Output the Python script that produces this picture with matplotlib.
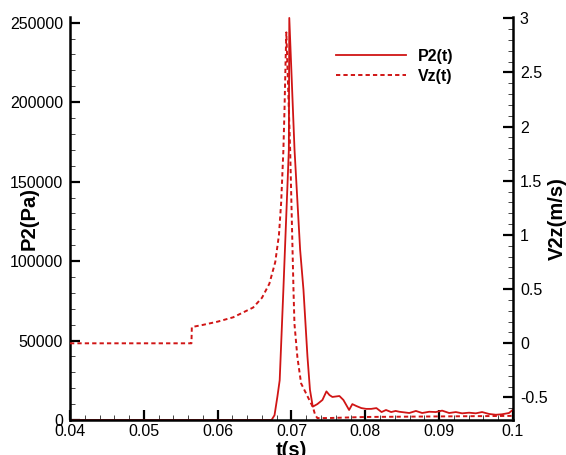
import matplotlib
matplotlib.use("Agg")
import matplotlib.pyplot as plt
from matplotlib.ticker import MultipleLocator, FixedLocator

plt.rcParams['font.family'] = ['Liberation Sans', 'DejaVu Sans']

# P2(t) solid curve (Pa)
t_p = [0.040, 0.0665, 0.0673, 0.0677, 0.0681, 0.0684, 0.0689, 0.06964, 0.0697,
       0.07041, 0.07117, 0.07162, 0.07216, 0.0725, 0.07288, 0.0735, 0.07419, 0.07473,
       0.07514, 0.07554, 0.07649, 0.07703, 0.07757, 0.0778, 0.07824, 0.07878, 0.07946,
       0.0801, 0.0808, 0.0815, 0.0822, 0.0828, 0.0835, 0.0841, 0.08459, 0.08595,
       0.08685, 0.0877, 0.08865, 0.08955, 0.0904, 0.09135, 0.09226, 0.09311, 0.09405,
       0.09496, 0.09581, 0.09676, 0.09766, 0.09851, 0.09946, 0.1]
p2 = [0, 0, 0, 3000, 15000, 25000, 82000, 170000, 253000,
      170000, 107000, 82000, 40000, 19000, 8400, 10000, 12600, 18000,
      15700, 14500, 15100, 12600, 8200, 6300, 10000, 8800, 7500,
      7000, 7000, 7500, 5000, 6300, 5000, 5700, 5200, 4400,
      5700, 4400, 5200, 5000, 5900, 4400, 5000, 4200, 4600,
      4200, 5000, 3800, 3300, 3600, 4400, 6500]

# Vz(t) dashed curve (m/s)
t_v = [0.040, 0.05645, 0.0565, 0.058, 0.060, 0.0621, 0.0648, 0.0660, 0.0670,
       0.0678, 0.0683, 0.0686, 0.0689, 0.06905, 0.0692, 0.0693, 0.06982, 0.07027,
       0.0704, 0.0708, 0.0713, 0.0729, 0.0732, 0.0735, 0.075, 0.080, 0.090, 0.100]
vz = [0, 0, 0.15, 0.17, 0.20, 0.24, 0.33, 0.42, 0.55,
      0.75, 1.0, 1.3, 1.78, 2.15, 2.61, 2.87, 1.78, 0.49,
      0.18, -0.13, -0.37, -0.59, -0.66, -0.69, -0.69, -0.68, -0.675, -0.67]

x_ticks = [0.04, 0.05, 0.06, 0.07, 0.08, 0.09, 0.1]
x_labels = ['0.04', '0.05', '0.06', '0.07', '0.08', '0.09', '0.1']
p_ticks = [0, 50000, 100000, 150000, 200000, 250000]
v_ticks = [-0.5, 0, 0.5, 1, 1.5, 2, 2.5, 3]
v_labels = ['-0.5', '0', '0.5', '1', '1.5', '2', '2.5', '3']

W, H = 566, 455
fig = plt.figure(figsize=(W / 100, H / 100), dpi=100)
L, R, T, B = 70, 513, 17, 420
ax = fig.add_axes([L / W, 1 - B / H, (R - L) / W, (B - T) / H])
ax2 = ax.twinx()

red = '#d01515'
l1, = ax.plot(t_p, p2, color=red, lw=1.3, solid_joinstyle='round')
l2, = ax2.plot(t_v, vz, color=red, lw=1.4, ls=(0, (2.2, 1.6)))

ax.set_xlim(0.04, 0.1)
ax.set_ylim(0, 253590)
ax2.set_ylim(-0.708, 3.012)

ax.xaxis.set_major_locator(FixedLocator(x_ticks))
ax.set_xticklabels(x_labels)
ax.xaxis.set_minor_locator(MultipleLocator(0.002))
ax.yaxis.set_major_locator(FixedLocator(p_ticks))
ax.set_yticklabels([str(v) for v in p_ticks])
ax.yaxis.set_minor_locator(MultipleLocator(10000))
ax2.yaxis.set_major_locator(FixedLocator(v_ticks))
ax2.set_yticklabels(v_labels)
ax2.yaxis.set_minor_locator(MultipleLocator(0.1))

fs = 11.5
for a in (ax, ax2):
    a.tick_params(which='major', direction='in', length=7, width=1.6, labelsize=fs, pad=5)
    a.tick_params(which='minor', direction='in', length=3.8, width=0.7, color='#444444')
    for s in a.spines.values():
        s.set_linewidth(1.8)
    a.spines['top'].set_visible(False)
ax.spines['right'].set_visible(False)
ax2.spines['left'].set_visible(False)
ax2.spines['bottom'].set_visible(False)
ax.tick_params(axis='x', pad=3)

ax.set_xlabel('t(s)', fontsize=14.5, fontweight='bold')
ax.xaxis.set_label_coords(0.5, -0.052)
ax.set_ylabel('P2(Pa)', fontsize=14.5, fontweight='bold')
ax.yaxis.set_label_coords(-0.07, 0.5)
ax2.set_ylabel('V2z(m/s)', fontsize=14.5, fontweight='bold')
ax2.yaxis.set_label_coords(1.079, 0.5)

leg = ax2.legend([l1, l2], ['P2(t)', 'Vz(t)'], loc='upper left',
                 bbox_to_anchor=(336 / W, 1 - 49 / H), bbox_transform=fig.transFigure,
                 frameon=False, handlelength=4.4, handletextpad=0.75,
                 labelspacing=0.3, borderpad=0, borderaxespad=0,
                 prop={'weight': 'bold', 'size': fs})

fig.savefig('out.png', dpi=100)
